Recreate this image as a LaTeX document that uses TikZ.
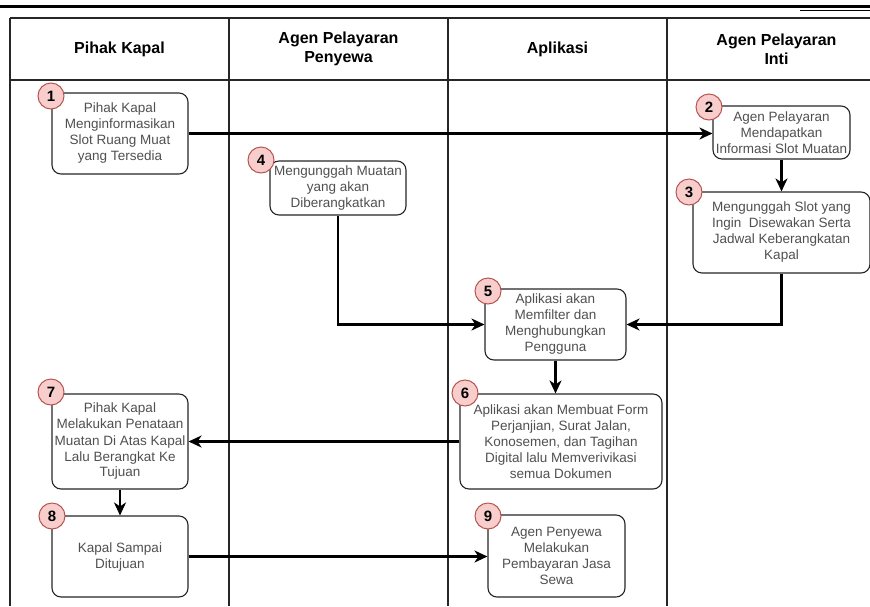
\documentclass[tikz,border=0pt]{standalone}
\usepackage{fontspec}
\setmainfont{Liberation Sans}
\usepackage{tikz}
\usetikzlibrary{arrows.meta}
\usetikzlibrary{positioning}
\usetikzlibrary{calc}

\definecolor{badgefill}{HTML}{F8CECC}
\definecolor{badgeline}{HTML}{B85450}
\definecolor{steptext}{HTML}{505050}

\begin{document}
\begin{tikzpicture}[x=1pt, y=-1pt,
    lane/.style={draw=black!85, line width=1.4pt},
    head/.style={font=\fontsize{16}{19}\selectfont\bfseries, align=center},
    task/.style={draw=black!85, line width=1.1pt, rounded corners=9pt, fill=white,
      text=steptext, align=center, font=\fontsize{13.5}{16}\selectfont, inner sep=1pt},
    badge/.style={circle, draw=badgeline, fill=badgefill, line width=1pt,
      minimum size=26pt, inner sep=0pt, font=\fontsize{15}{16}\selectfont\bfseries},
    flow/.style={line width=2.2pt, -{Stealth[length=13pt, width=12pt, inset=4pt]}}]

  \useasboundingbox (0,0) rectangle (870,606);

  \draw[line width=3pt] (0,6) -- (870,6);
  \draw[line width=0.8pt] (800,10) -- (870,10);

  \draw[lane] (10,18) -- (870,18);
  \draw[lane] (10,80) -- (870,80);
  \foreach \lx in {10,229,448,667}
    \draw[lane] (\lx,18) -- (\lx,606);

  \node[head] (h1) at (119.5,49) {Pihak Kapal};
  \node[head] (h2) at (338.5,49) {Agen Pelayaran\\Penyewa};
  \node[head] (h3) at (557.5,49) {Aplikasi};
  \node[head] (h4) at (776.5,49) {Agen Pelayaran\\Inti};

  \node[task, minimum width=136pt, minimum height=81pt] (n1) at (120,133.5)
    {Pihak Kapal\\Menginformasikan\\Slot Ruang Muat\\yang Tersedia};
  \node[task, minimum width=137pt, minimum height=53pt] (n2) at (781.5,132.5)
    {Agen Pelayaran\\Mendapatkan\\Informasi Slot Muatan};
  \node[task, minimum width=177pt, minimum height=81pt] (n3) at (781.5,232.5)
    {Mengunggah Slot yang\\Ingin\ \ Disewakan Serta\\Jadwal Keberangkatan\\Kapal};
  \node[task, minimum width=136pt, minimum height=54pt] (n4) at (338,188)
    {Mengunggah Muatan\\yang akan\\Diberangkatkan};
  \node[task, minimum width=141pt, minimum height=71pt] (n5) at (555.5,324.5)
    {Aplikasi akan\\Memfilter dan\\Menghubungkan\\Pengguna};
  \node[task, minimum width=202pt, minimum height=95pt] (n6) at (561,441.5)
    {Aplikasi akan Membuat Form\\Perjanjian, Surat Jalan,\\Konosemen, dan Tagihan\\Digital lalu Memverivikasi\\semua Dokumen};
  \node[task, minimum width=136pt, minimum height=95pt] (n7) at (120,441.5)
    {Pihak Kapal\\Melakukan Penataan\\Muatan Di Atas Kapal\\Lalu Berangkat Ke\\Tujuan};
  \node[task, minimum width=136pt, minimum height=81pt] (n8) at (120,556.5)
    {Kapal Sampai\\Ditujuan};
  \node[task, minimum width=137pt, minimum height=82pt] (n9) at (556.5,556)
    {Agen Penyewa\\Melakukan\\Pembayaran Jasa\\Sewa};

  \node[badge] (b1) at (51,96) {1};
  \node[badge] (b2) at (709,107) {2};
  \node[badge] (b3) at (689,192) {3};
  \node[badge] (b4) at (261,160) {4};
  \node[badge] (b5) at (488,291) {5};
  \node[badge] (b6) at (465,393) {6};
  \node[badge] (b7) at (51,392) {7};
  \node[badge] (b8) at (52,516) {8};
  \node[badge] (b9) at (488,516) {9};

  \draw[flow] (n1.east) -- (n1.east -| n2.west);
  \draw[flow] (n2) -- (n3);
  \draw[flow] (n4.south) |- (n5.west);
  \draw[flow] (n3.south) |- (n5.east);
  \draw[flow] (n5.south) -- (n5.south |- n6.north);
  \draw[flow] (n6.west) -- (n7.east);
  \draw[flow] (n7) -- (n8);
  \draw[flow] (n8.east) -- (n8.east -| n9.west);
\end{tikzpicture}
\end{document}
